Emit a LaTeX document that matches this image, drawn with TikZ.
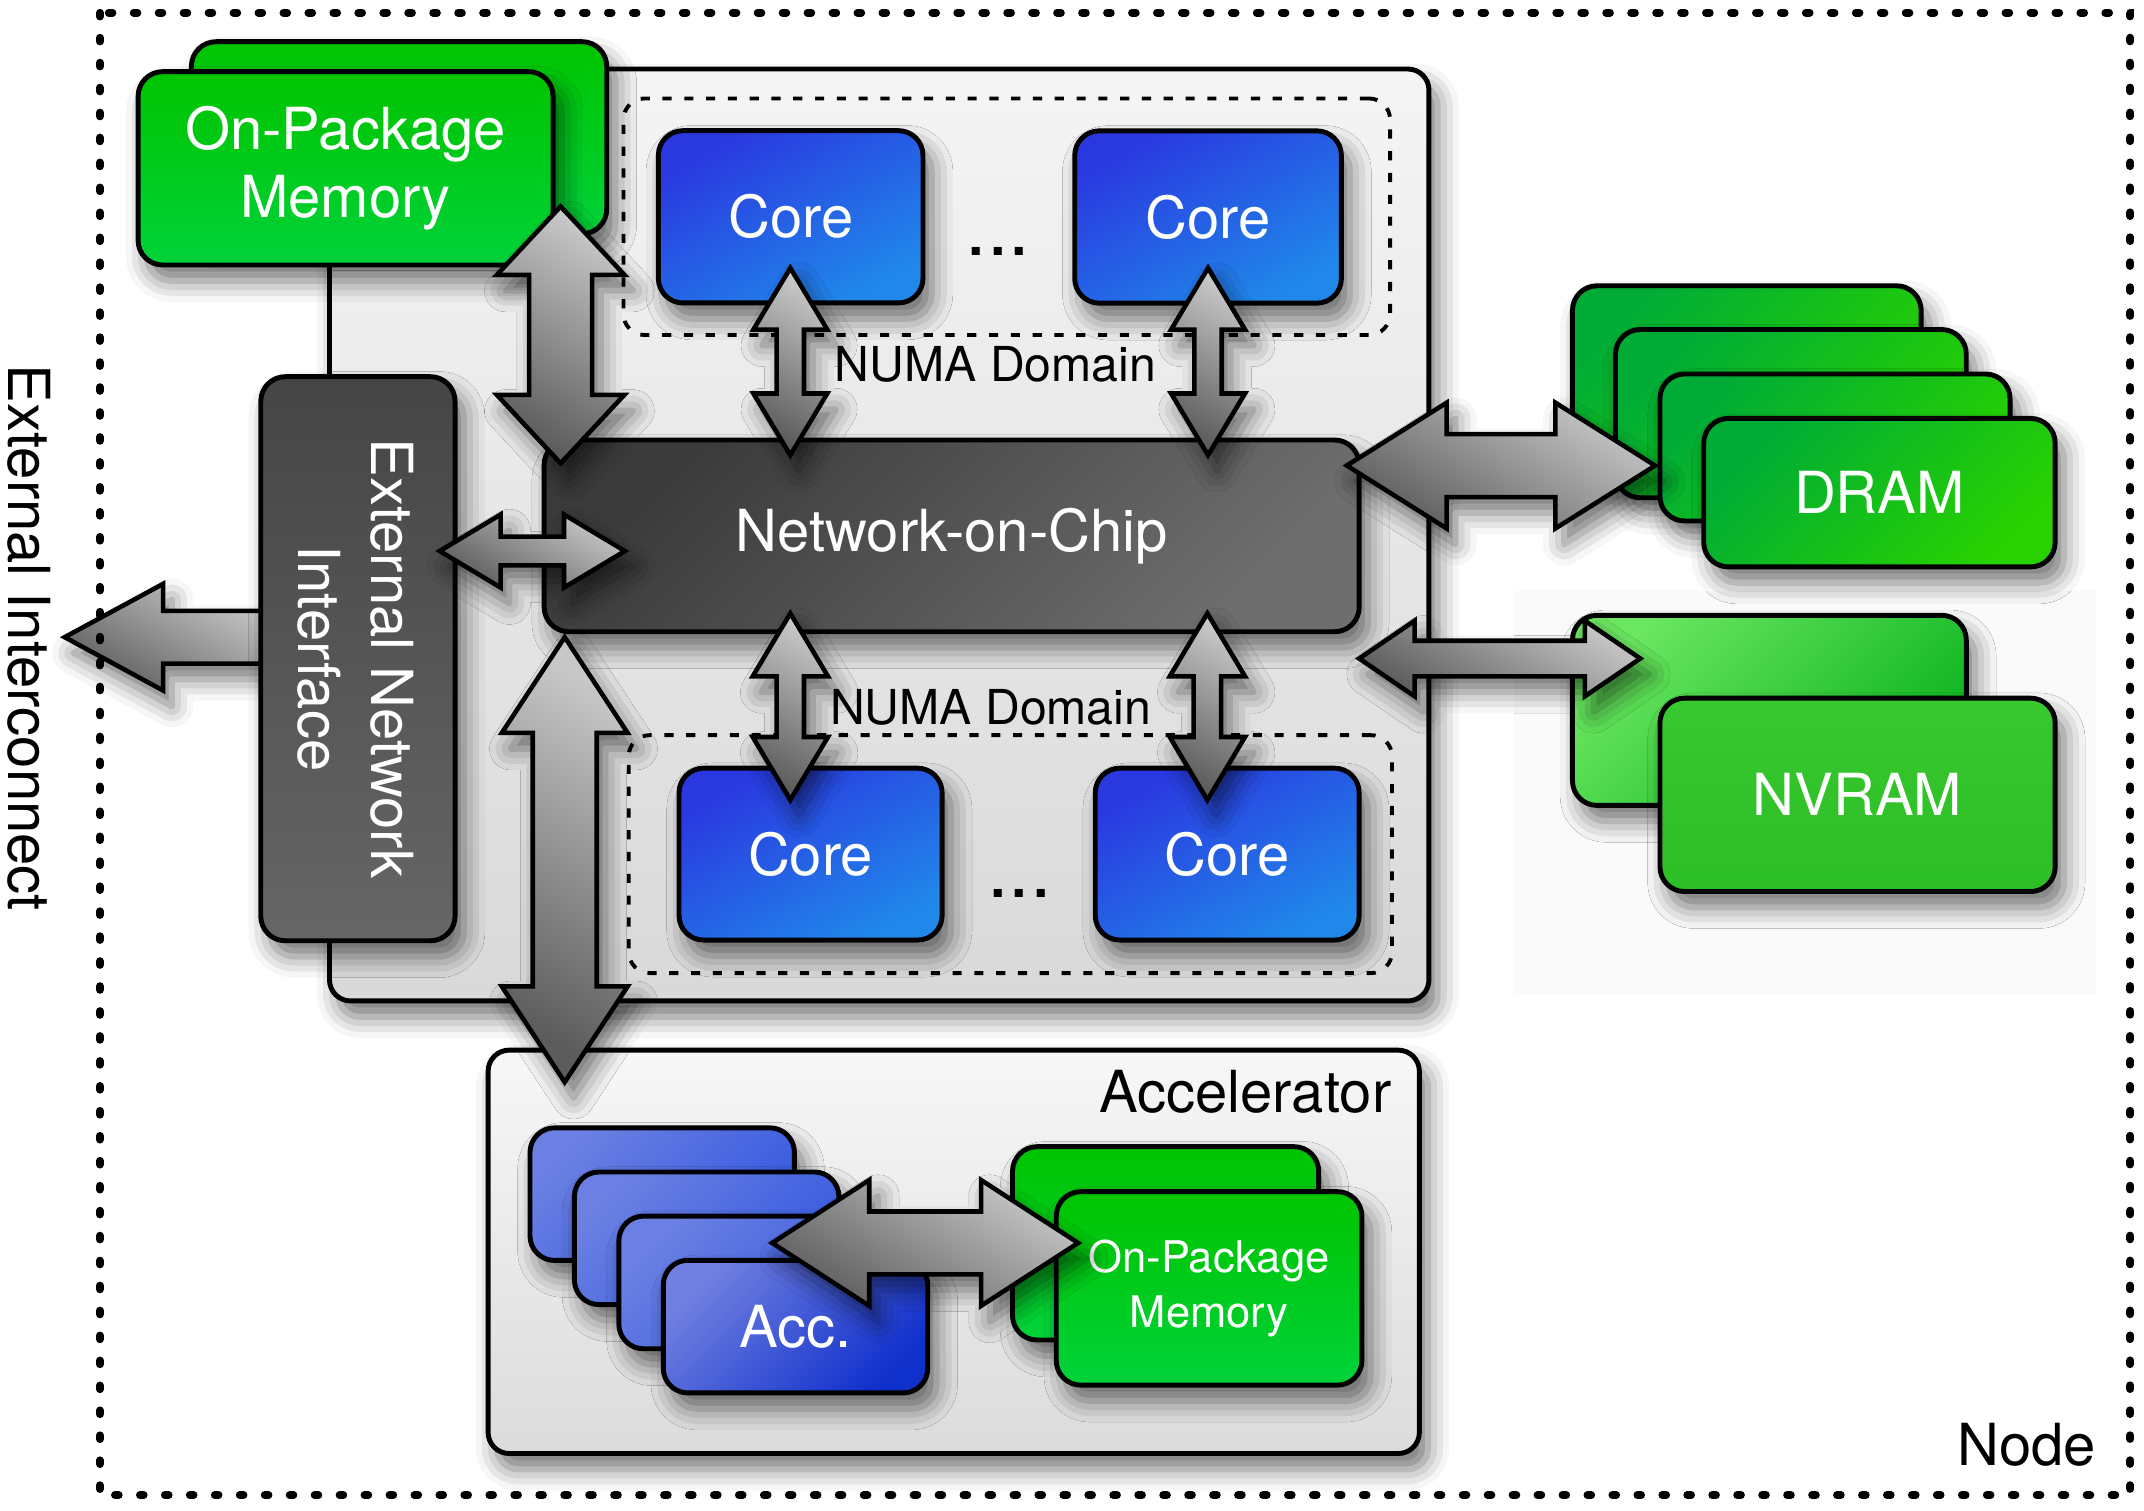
\documentclass[tikz,border=0pt]{standalone}
\usepackage{fontspec}
\setmainfont{TeX Gyre Heros}
\usetikzlibrary{calc,shadows.blur}

% one pixel of the layout grid
\newcommand{\dpx}{0.38903pt}

% block arrows between two named points: shaft half width, head half width, head length
\newcommand{\vdarrow}[5]{%
  \path[blockarrow] let \p1=(#1), \p2=(#2) in
    (\x1,\y1) -- ({\x1+#4*\dpx},{\y1-#5*\dpx}) -- ({\x1+#3*\dpx},{\y1-#5*\dpx})
    -- ({\x1+#3*\dpx},{\y2+#5*\dpx}) -- ({\x1+#4*\dpx},{\y2+#5*\dpx}) -- (\x1,\y2)
    -- ({\x1-#4*\dpx},{\y2+#5*\dpx}) -- ({\x1-#3*\dpx},{\y2+#5*\dpx})
    -- ({\x1-#3*\dpx},{\y1-#5*\dpx}) -- ({\x1-#4*\dpx},{\y1-#5*\dpx}) -- cycle;}
\newcommand{\hdarrow}[5]{%
  \path[blockarrow] let \p1=(#1), \p2=(#2) in
    (\x1,\y1) -- ({\x1+#5*\dpx},{\y1+#4*\dpx}) -- ({\x1+#5*\dpx},{\y1+#3*\dpx})
    -- ({\x2-#5*\dpx},{\y1+#3*\dpx}) -- ({\x2-#5*\dpx},{\y1+#4*\dpx}) -- (\x2,\y1)
    -- ({\x2-#5*\dpx},{\y1-#4*\dpx}) -- ({\x2-#5*\dpx},{\y1-#3*\dpx})
    -- ({\x1+#5*\dpx},{\y1-#3*\dpx}) -- ({\x1+#5*\dpx},{\y1-#4*\dpx}) -- cycle;}
\newcommand{\hlarrow}[5]{%
  \path[blockarrow] let \p1=(#1), \p2=(#2) in
    (\x1,\y1) -- ({\x1+#5*\dpx},{\y1+#4*\dpx}) -- ({\x1+#5*\dpx},{\y1+#3*\dpx})
    -- (\x2,{\y1+#3*\dpx}) -- (\x2,{\y1-#3*\dpx})
    -- ({\x1+#5*\dpx},{\y1-#3*\dpx}) -- ({\x1+#5*\dpx},{\y1-#4*\dpx}) -- cycle;}

\definecolor{memA}{HTML}{00C400}
\definecolor{memB}{HTML}{00D23A}
\definecolor{dramA}{HTML}{00AC36}
\definecolor{dramB}{HTML}{28D200}
\definecolor{nvbA}{HTML}{6AE660}
\definecolor{nvbB}{HTML}{0CB41E}
\definecolor{nvfA}{HTML}{38C830}
\definecolor{nvfB}{HTML}{2CBE26}
\definecolor{coreA}{HTML}{2A38E0}
\definecolor{coreB}{HTML}{2088EA}
\definecolor{accA}{HTML}{7080E0}
\definecolor{accB}{HTML}{1030CC}
\definecolor{accbA}{HTML}{6B80E2}
\definecolor{accbB}{HTML}{3458E0}
\definecolor{darkA}{HTML}{3A3A3A}
\definecolor{darkB}{HTML}{6E6E6E}

\tikzset{
  wh/.style 2 args={minimum width=#1*\dpx, minimum height=#2*\dpx},
  soft/.style={blur shadow={shadow xshift=2.5pt, shadow yshift=-4.5pt,
      shadow blur radius=6pt, shadow opacity=55}},
  box/.style={draw=black, line width=1.4pt, rounded corners=7pt, inner sep=0pt,
    soft, text=white, align=center, font=\fontsize{16.5}{19.4}\selectfont},
  greenbox/.style={box, top color=memA, bottom color=memB},
  drambox/.style={box, top color=dramA, bottom color=dramB, shading angle=45},
  corebox/.style={box, top color=coreA, bottom color=coreB, shading angle=30},
  accfront/.style={box, top color=accA, bottom color=accB, shading angle=45},
  accback/.style={box, top color=accbA, bottom color=accbB, shading angle=45},
  darkbox/.style={box, top color=darkA, bottom color=darkB, shading angle=45},
  chipbox/.style={draw=black, line width=1.4pt, rounded corners=6pt, inner sep=0pt,
    top color=black!4, bottom color=black!15, soft},
  numa/.style={draw=black, line width=1.1pt, dash pattern=on 2.6pt off 3.6pt,
    rounded corners=6pt, inner sep=0pt},
  nodeborder/.style={line width=2.2pt, line cap=round, dash pattern=on 1.1pt off 6pt},
  blockarrow/.style={draw=black, line width=1.3pt, top color=black!22,
    bottom color=black!64, shading angle=-30, soft},
  lbl/.style={inner sep=0pt, font=\fontsize{16.5}{20}\selectfont},
}

\begin{document}
\begin{tikzpicture}[x=0.013673cm, y=-0.013673cm]
\useasboundingbox (0,0) rectangle (1568,1104.4);

\fill[black!2] (1107,432) rectangle (1533,728);

% the chip
\node[chipbox, wh={804}{681.5}] (chip) at (643,391.25) {};

\coordinate (ext-a) at (47.3,466);
\coordinate (eni-b) at (196,466);
\hlarrow{ext-a}{eni-b}{19.3}{39}{72}

\node[darkbox, wh={142.1}{412.5}, top color=black!73, bottom color=black!60, shading angle=0] (eni) at (261.75,481.75) {};
\node[lbl, rotate=-90, align=center, text=white, font=\fontsize{16.5}{20.8}\selectfont] (enilbl) at (260.3,481.5) {External Network\\Interface};

\node[greenbox, wh={303.7}{140.5}] (opmb) at (291.85,100.75) {};
\node[greenbox, wh={303.5}{141.4}] (opm) at (252.75,123.1) {On-Package\\Memory};

\node[numa, wh={560.6}{173}] (numa1) at (736.3,158.5) {};
\node[numa, wh={558.2}{174}] (numa2) at (738.9,624.65) {};

\node[corebox, wh={193.5}{126}] (ctl) at (578.25,158.55) {Core};
\node[corebox, wh={195}{126}] (ctr) at (883.5,158.7) {Core};
\node[corebox, wh={192.4}{125.7}] (cbl) at (592.8,624.65) {Core};
\node[corebox, wh={193}{125.7}] (cbr) at (897.5,624.65) {Core};
\node[lbl, anchor=base, font=\fontsize{22}{24}\selectfont] (dots1) at (730,187) {...};
\node[lbl, anchor=base, font=\fontsize{22}{24}\selectfont] (dots2) at (745.6,656) {...};
\node[lbl, anchor=base, font=\fontsize{13.7}{16}\selectfont] (numalbl1) at (728,278.7) {NUMA Domain};
\node[lbl, anchor=base, font=\fontsize{13.7}{16}\selectfont] (numalbl2) at (724.5,530) {NUMA Domain};

\node[darkbox, wh={596}{140.2}] (noc) at (696,391.9) {Network-on-Chip};

% memories beside the chip
\foreach \cx/\cy/\w/\h [count=\i] in {1277.5/278/255/138, 1309.75/302.5/256.5/123, 1342/327.25/256/107.5}
  \node[drambox, wh={\w}{\h}] (dram\i) at (\cx,\cy) {};
\node[drambox, wh={257}{108.6}] (dram) at (1374.5,360.3) {DRAM};
\node[box, wh={288}{139}, top color=nvbA, bottom color=nvbB, shading angle=45] (nvramb) at (1294,519.5) {};
\node[box, wh={289}{141.4}, top color=nvfA, bottom color=nvfB] (nvram) at (1358.5,581.3) {NVRAM};

% accelerator
\node[chipbox, wh={681}{295}, top color=black!3, bottom color=black!14] (accel) at (697.5,915.5) {};
\node[lbl, anchor=base east] (accellbl) at (1018,813.8) {Accelerator};
\foreach \k in {0,1,2}
  \node[accback, wh={193.4}{97}] (acc\k) at ({484.3+32.5*\k},{873.3+32.3*\k}) {};
\node[accfront, wh={193.4}{97}] (acc) at (581.8,970.2) {Acc.};
\node[greenbox, wh={223.9}{141.4}] (accmemb) at (852.45,909.3) {};
\node[greenbox, wh={223.5}{141.5}, font=\fontsize{12.4}{15.6}\selectfont] (accmem) at (884.25,942.25) {On-Package\\Memory};

% links
\coordinate (mem-a) at (410,151);   \coordinate (noc-a) at (410,338.8);
\coordinate (ctl-a) at (578,196);   \coordinate (noc-b) at (578,332.8);
\coordinate (ctr-a) at (883.5,196); \coordinate (noc-c) at (883.5,332.8);
\coordinate (noc-d) at (578,448.6); \coordinate (cbl-a) at (578,585);
\coordinate (noc-e) at (883,448.6); \coordinate (cbr-a) at (883,585);
\coordinate (noc-f) at (413,466);   \coordinate (acc-a) at (413,791.4);
\coordinate (eni-a) at (321.6,403); \coordinate (noc-g) at (457,403);
\coordinate (noc-h) at (985,340.5); \coordinate (dram-a) at (1210.5,340.5);
\coordinate (noc-i) at (994,481.6); \coordinate (nv-a) at (1199.6,481.6);
\coordinate (acc-b) at (564.7,909); \coordinate (mem-b) at (788.5,909);

\vdarrow{mem-a}{noc-a}{23}{46.6}{50}
\vdarrow{ctl-a}{noc-b}{10}{27}{45}
\vdarrow{ctr-a}{noc-c}{10}{27}{45}
\vdarrow{noc-d}{cbl-a}{10}{27.5}{46}
\vdarrow{noc-e}{cbr-a}{10}{27.5}{46}
\vdarrow{noc-f}{acc-a}{23.4}{46}{70}
\hdarrow{eni-a}{noc-g}{10.5}{26.7}{44.5}
\hdarrow{noc-h}{dram-a}{23}{46}{73}
\hdarrow{noc-i}{nv-a}{13}{27.6}{40.5}
\hdarrow{acc-b}{mem-b}{23}{46}{71}

% node frame
\node[lbl, rotate=-90] (extlbl) at (21,466.5) {External Interconnect};
\node[lbl, anchor=base east] (nodelbl) at (1533.5,1071.5) {Node};
\draw[nodeborder] (73,9.3) rectangle (1558,1093.4);
\end{tikzpicture}
\end{document}
